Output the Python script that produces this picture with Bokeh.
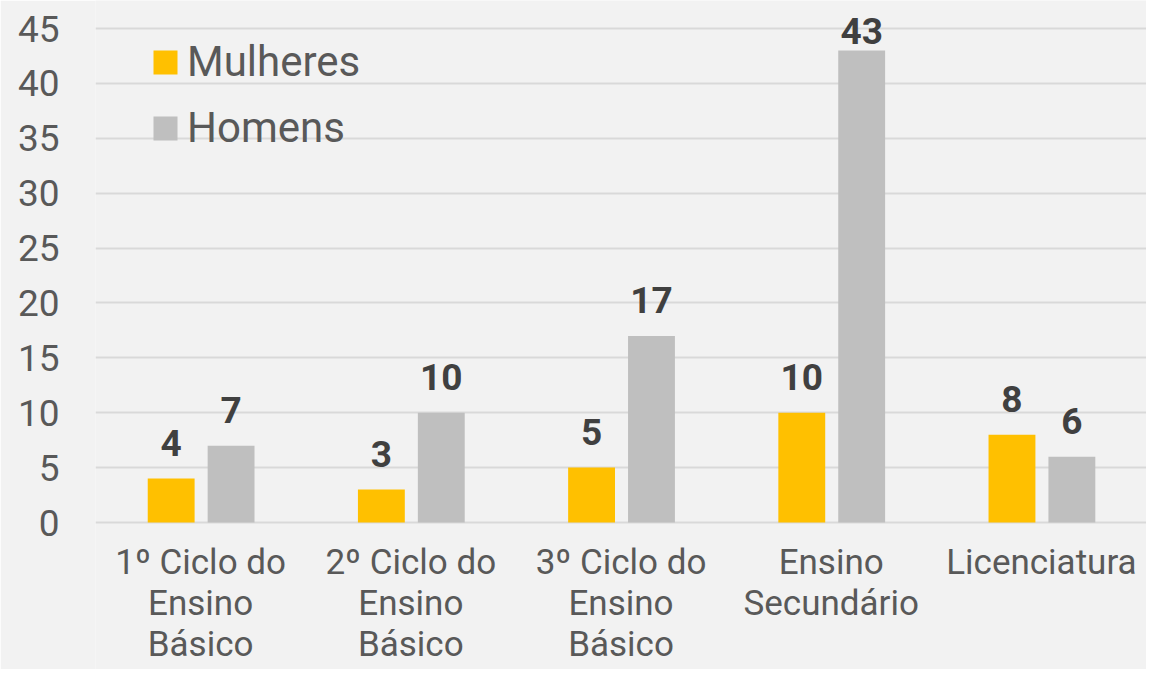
from bokeh.plotting import figure
from bokeh.models import (ColumnDataSource, FactorRange, Range1d, FixedTicker, Legend, LegendItem)
from bokeh.core.properties import value
from bokeh.transform import dodge
from bokeh.embed import file_html
from bokeh.resources import INLINE

categories = ["1º Ciclo do Ensino Básico", "2º Ciclo do Ensino Básico", "3º Ciclo do Ensino Básico",
              "Ensino Secundário", "Licenciatura"]
tick_labels = ["1º Ciclo do\nEnsino\nBásico", "2º Ciclo do\nEnsino\nBásico", "3º Ciclo do\nEnsino\nBásico",
               "Ensino\nSecundário", "Licenciatura"]
mulheres = [4, 3, 5, 10, 8]
homens = [7, 10, 17, 43, 6]
y_ticks = [0, 5, 10, 15, 20, 25, 30, 35, 40, 45]

YELLOW = "#FFC000"
GRAY = "#BFBFBF"
BG = "#F2F2F2"
TXT = "#595959"
FONT = "Roboto"

W, H = 1146, 669
LEFT = 95
Y0_PX, Y45_PX = 522, 28          # pixel rows of value 0 and value 45
ppu = (Y0_PX - Y45_PX) / 45.0
y_top = 45 + Y45_PX / ppu
y_bot = -(H - Y0_PX) / ppu
BASE_FIX = 17                    # text box baseline correction (px)

def label_y(vals):
    # data-label baseline: 19px above the bar, kept inside the chart area
    out = []
    for v in vals:
        bar_px = Y0_PX - v * ppu
        base_px = bar_px - 19
        if base_px < 47:
            base_px = max(47, bar_px - 3)
        out.append((Y0_PX - (base_px - BASE_FIX)) / ppu)
    return out

src = ColumnDataSource(dict(cat=categories, m=mulheres, h=homens,
                            m_txt=[str(v) for v in mulheres], h_txt=[str(v) for v in homens],
                            m_ly=label_y(mulheres), h_ly=label_y(homens),
                            lab=tick_labels, lab_y=[-(541 - Y0_PX) / ppu] * len(categories)))

p = figure(x_range=FactorRange(*categories, range_padding=0), y_range=Range1d(y_bot, y_top),
           width=W, height=H, output_backend="svg", toolbar_location=None,
           min_border_top=0, min_border_bottom=0, min_border_left=LEFT, min_border_right=0)
p.background_fill_color = BG
p.border_fill_color = BG
p.outline_line_color = None

r1 = p.vbar(x=dodge("cat", -0.14, range=p.x_range), top="m", bottom=0, width=0.223, source=src,
            fill_color=YELLOW, line_color=None)
r2 = p.vbar(x=dodge("cat", 0.145, range=p.x_range), top="h", bottom=0, width=0.223, source=src,
            fill_color=GRAY, line_color=None)

common = dict(text_align="center", text_baseline="alphabetic", text_font=value(FONT),
              text_font_size="37px", text_font_style="bold", text_color="#404040", source=src)
p.text(x=dodge("cat", -0.14, range=p.x_range), y="m_ly", text="m_txt", **common)
p.text(x=dodge("cat", 0.145, range=p.x_range), y="h_ly", text="h_txt", **common)

# category labels (multi-line) drawn below the baseline
p.text(x="cat", y="lab_y", text="lab", source=src, text_align="center", text_baseline="top",
       text_font=value(FONT), text_font_size="35px", text_color=TXT, text_line_height=1.0)

# axes
p.xaxis.visible = False
p.yaxis.ticker = FixedTicker(ticks=y_ticks)
p.yaxis.axis_line_color = None
p.yaxis.major_tick_line_color = None
p.yaxis.minor_tick_line_color = None
p.yaxis.major_tick_out = 0
p.yaxis.major_tick_in = 0
p.yaxis.major_label_standoff = 36
p.yaxis.major_label_text_font = FONT
p.yaxis.major_label_text_font_size = "37px"
p.yaxis.major_label_text_color = TXT

p.xgrid.grid_line_color = None
p.ygrid.grid_line_color = "#D9D9D9"
p.ygrid.grid_line_width = 2

legend = Legend(items=[LegendItem(label="Mulheres", renderers=[r1]),
                       LegendItem(label="Homens", renderers=[r2])],
                location=(55, 517), orientation="vertical")
legend.glyph_width = 30
legend.glyph_height = 30
legend.label_standoff = 7
legend.label_text_font = FONT
legend.label_text_font_size = "42px"
legend.label_text_color = TXT
legend.spacing = 17
legend.padding = 0
legend.margin = 0
legend.border_line_color = None
legend.background_fill_alpha = 0
p.add_layout(legend)

open("out.html", "w").write(file_html(p, INLINE))
